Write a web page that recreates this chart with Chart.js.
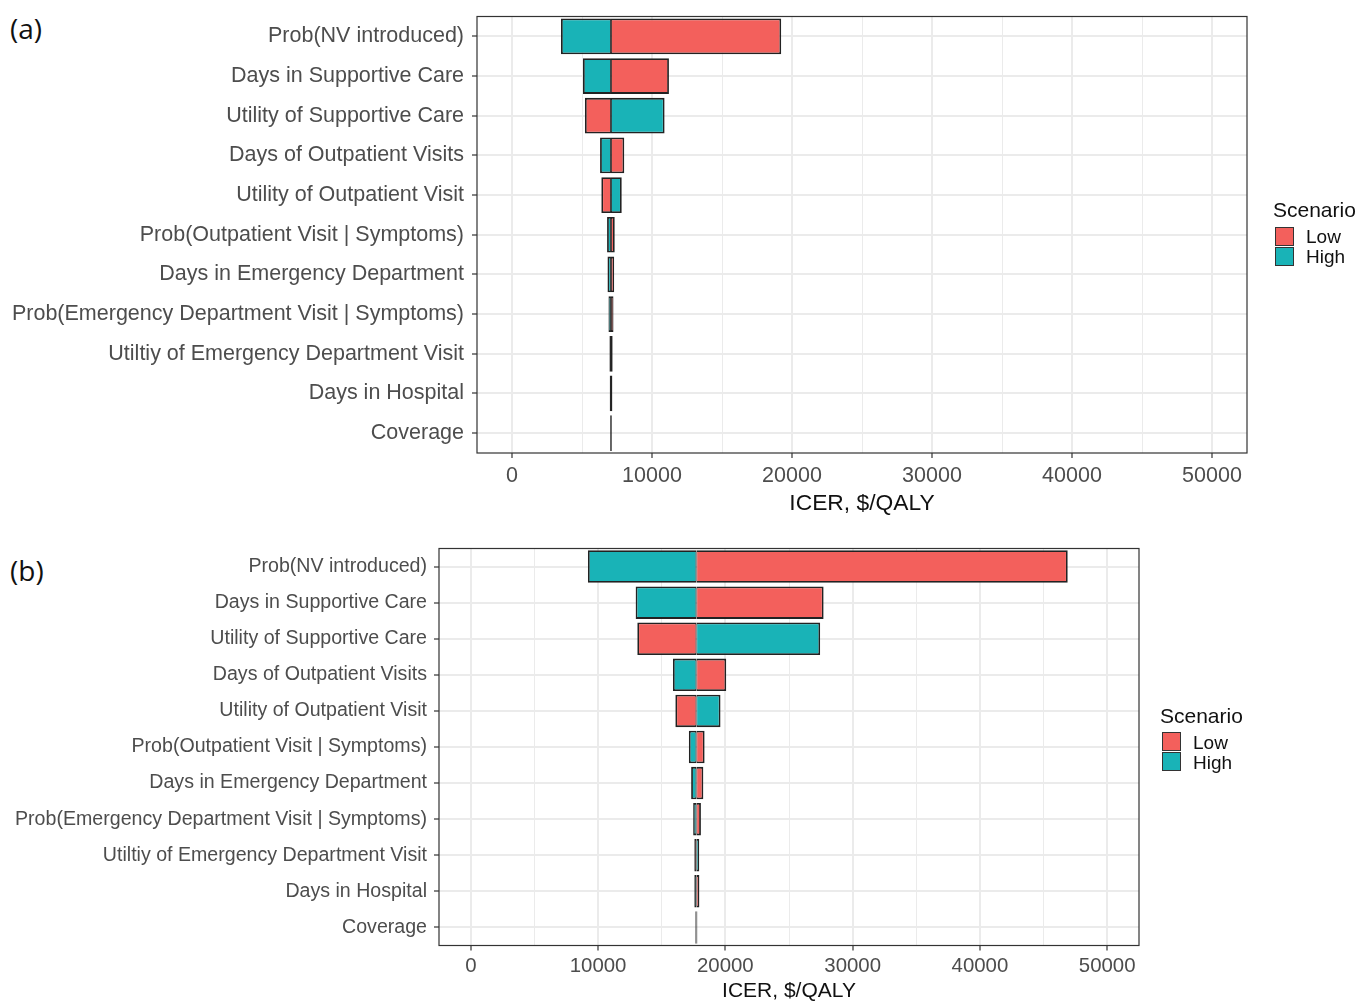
<!DOCTYPE html>
<html>
<head>
<meta charset="utf-8">
<title>ICER tornado diagrams</title>
<script src="https://cdn.jsdelivr.net/npm/chart.js@4.4.1/dist/chart.umd.min.js"></script>
<style>
  html, body { margin: 0; padding: 0; background: #fff; }
  #page { position: relative; width: 1368px; height: 1004px; overflow: hidden; font-family: 'Liberation Sans', Arial, sans-serif; }
  #page canvas { position: absolute; left: 0; }
  .panel-tag { position: absolute; left: 10px; font-family: 'Open Sans', sans-serif; font-size: 28px; line-height: 28px; color: #111; }
  .legend-title { position: absolute; font-size: 21px; line-height: 21px; color: #111; }
  .swatch { position: absolute; width: 19px; height: 19px; box-sizing: border-box; border: 1.4px solid #333; }
  .legend-label { position: absolute; font-size: 19px; line-height: 19px; color: #111; }
</style>
</head>
<body>
<div id="page">
  <div class="panel-tag" style="top:14px">(a)</div>
  <canvas id="chart-a" width="1368" height="530" style="top:0"></canvas>
  <div class="panel-tag" style="top:556px">(b)</div>
  <canvas id="chart-b" width="1368" height="474" style="top:530px"></canvas>
</div>

<script>
// --- Data ---
const categories = [
    'Prob(NV introduced)',
    'Days in Supportive Care',
    'Utility of Supportive Care',
    'Days of Outpatient Visits',
    'Utility of Outpatient Visit',
    'Prob(Outpatient Visit | Symptoms)',
    'Days in Emergency Department',
    'Prob(Emergency Department Visit | Symptoms)',
    'Utiltiy of Emergency Department Visit',
    'Days in Hospital',
    'Coverage'
];
const seriesNames = ['Low', 'High'];
const xTickValues = [0, 5000, 10000, 15000, 20000, 25000, 30000, 35000, 40000, 45000, 50000];
const xMin = -2500;
const xMax = 52500;
const axisTitle = 'ICER, $/QALY';
const legendTitle = 'Scenario';

// panel (a): base-case ICER and the ICER at each parameter's low / high value
const baseA = 7070;
const lowA = [19230, 11210, 5210, 8020, 6380, 7340, 7300, 7250, 6960, 7170, 7130];
const highA = [3500, 5070, 10900, 6290, 7840, 6790, 6820, 6890, 7190, 6980, 7010];

// panel (b)
const baseB = 17720;
const lowB = [46900, 27720, 13080, 20070, 16070, 18370, 18270, 18080, 17560, 17960, 17800];
const highB = [9200, 12950, 27450, 15880, 19620, 17130, 17310, 17470, 17950, 17560, 17640];

// --- Styles ---
const RED = '#F3605C';
const TEAL = '#19B3B7';
const OUTLINE = '#222';
const GRID = '#EBEBEB';
const FONT = "'Liberation Sans', Arial, sans-serif";

// thinner stroke on the side that sits on the base line, so the shared edge is not doubled
function outlineWidth(ctx) {
    const r = ctx.raw;
    if (!r) return 1.8;
    const toRight = r[1] >= r[0];
    return { top: 1.8, bottom: 1.8, left: toRight ? 0.9 : 1.8, right: toRight ? 1.8 : 0.9 };
}

const panelBorder = {
    id: 'panelBorder',
    afterDatasetsDraw(chart) {
        const { ctx, chartArea: a } = chart;
        ctx.save();
        ctx.strokeStyle = '#333';
        ctx.lineWidth = 1.2;
        ctx.strokeRect(a.left, a.top, a.right - a.left, a.bottom - a.top);
        ctx.restore();
    }
};

function isMajor(v) {
    return v % 10000 === 0;
}

function makeTornado(canvasId, base, low, high, L) {
    return new Chart(document.getElementById(canvasId), {
        type: 'bar',
        data: {
            labels: categories,
            datasets: [
                { label: seriesNames[0], data: low.map(v => [base, v]), backgroundColor: RED },
                { label: seriesNames[1], data: high.map(v => [base, v]), backgroundColor: TEAL }
            ]
        },
        options: {
            indexAxis: 'y',
            responsive: false,
            animation: false,
            devicePixelRatio: 1,
            layout: { padding: { top: L.padTop, right: L.padRight, left: 0, bottom: 0 } },
            datasets: {
                bar: {
                    grouped: false,
                    barPercentage: 0.9,
                    categoryPercentage: 1,
                    borderColor: OUTLINE,
                    borderWidth: outlineWidth,
                    borderSkipped: false
                }
            },
            plugins: { legend: { display: false }, tooltip: { enabled: false } },
            scales: {
                x: {
                    type: 'linear',
                    min: xMin,
                    max: xMax,
                    afterBuildTicks: s => { s.ticks = xTickValues.map(v => ({ value: v })); },
                    afterFit: s => {
                        s.height = L.xAxisHeight;
                        s.paddingLeft = 0;
                        s.paddingRight = 0;
                    },
                    border: { display: false },
                    grid: {
                        color: GRID,
                        lineWidth: c => (c.tick && isMajor(c.tick.value)) ? 2 : 1,
                        tickLength: 5,
                        tickWidth: 1.2,
                        tickColor: c => (c.tick && isMajor(c.tick.value)) ? '#333' : 'rgba(0,0,0,0)'
                    },
                    ticks: {
                        autoSkip: false,
                        maxRotation: 0,
                        padding: L.xTickPad,
                        color: '#4D4D4D',
                        font: { family: FONT, size: L.xTickSize },
                        callback: v => isMajor(v) ? String(v) : ''
                    },
                    title: {
                        display: true,
                        text: axisTitle,
                        color: '#111',
                        font: { family: FONT, size: L.titleSize },
                        padding: { top: 0, bottom: L.titlePadBottom }
                    }
                },
                y: {
                    type: 'category',
                    afterFit: s => {
                        s.width = L.yAxisWidth;
                        s.paddingTop = 0;
                        s.paddingBottom = 0;
                    },
                    border: { display: false },
                    grid: {
                        color: GRID,
                        lineWidth: 2,
                        offset: false,
                        tickLength: 5,
                        tickWidth: 1.2,
                        tickColor: '#333'
                    },
                    ticks: {
                        autoSkip: false,
                        padding: L.yTickPad,
                        color: '#4D4D4D',
                        font: { family: FONT, size: L.yTickSize }
                    }
                }
            }
        },
        plugins: [panelBorder]
    });
}

function addLegend(L) {
    const page = document.getElementById('page');
    const title = document.createElement('div');
    title.className = 'legend-title';
    title.style.left = L.x + 'px';
    title.style.top = L.titleTop + 'px';
    title.textContent = legendTitle;
    page.appendChild(title);

    [RED, TEAL].forEach((color, i) => {
        const sw = document.createElement('div');
        sw.className = 'swatch';
        sw.style.left = (L.x + 2) + 'px';
        sw.style.top = (L.swatchTop + i * 19.5) + 'px';
        sw.style.background = color;
        page.appendChild(sw);

        const lab = document.createElement('div');
        lab.className = 'legend-label';
        lab.style.left = (L.x + 33) + 'px';
        lab.style.top = (L.labelTop + i * 20) + 'px';
        lab.textContent = seriesNames[i];
        page.appendChild(lab);
    });
}

makeTornado('chart-a', baseA, lowA, highA, {
    padTop: 16.5, padRight: 121, yAxisWidth: 477, xAxisHeight: 77,
    yTickSize: 21.5, xTickSize: 21.5, titleSize: 22.8,
    yTickPad: 8, xTickPad: 5, titlePadBottom: 13
});
makeTornado('chart-b', baseB, lowB, highB, {
    padTop: 18.5, padRight: 229, yAxisWidth: 439, xAxisHeight: 58.5,
    yTickSize: 19.6, xTickSize: 20.4, titleSize: 21,
    yTickPad: 7, xTickPad: 4, titlePadBottom: 0
});

addLegend({ x: 1273, titleTop: 199, swatchTop: 227, labelTop: 227 });
addLegend({ x: 1160, titleTop: 705, swatchTop: 732, labelTop: 733 });
</script>
</body>
</html>
